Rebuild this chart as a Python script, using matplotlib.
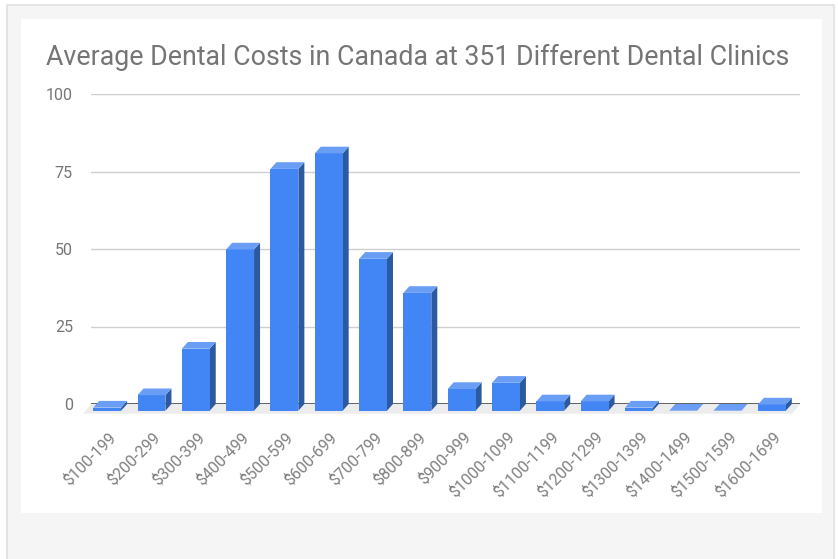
import matplotlib
matplotlib.use('Agg')
import matplotlib.pyplot as plt
import matplotlib.transforms as mtransforms
from matplotlib.patches import Rectangle, Polygon

# data
categories = ['$100-199', '$200-299', '$300-399', '$400-499', '$500-599', '$600-699',
              '$700-799', '$800-899', '$900-999', '$1000-1099', '$1100-1199', '$1200-1299',
              '$1300-1399', '$1400-1499', '$1500-1599', '$1600-1699']
clinics = [1, 5, 20, 52, 78, 83, 49, 38, 7, 9, 3, 3, 1, 0, 0, 2]
y_ticks = [0, 25, 50, 75, 100]

TITLE = 'Average Dental Costs in Canada at 351 Different Dental Clinics'

# sizes in pixels
W, H = 838, 559
AX_L, AX_R, AX_T, AX_B = 91, 800, 94, 404
DEPTH_X, DEPTH_Y = 6, 6.7
BAR_W = 0.63

FRONT = '#4285f4'
TOP = '#6a9ef5'
SIDE = '#2c5aa0'
TEXT = '#757575'

plt.rcParams['font.family'] = ['Roboto', 'DejaVu Sans']

fig = plt.figure(figsize=(W / 100, H / 100), dpi=100)
fig.patch.set_facecolor('white')

def fig_rect(x0, y0, x1, y1, **kw):
    # rect given in image pixel coords (top-down)
    r = Rectangle((x0 / W, 1 - y1 / H), (x1 - x0) / W, (y1 - y0) / H,
                  transform=fig.transFigure, zorder=-5, **kw)
    fig.add_artist(r)

# outer frame + card
fig_rect(7, 5, 834, H + 2, facecolor='#f5f5f5', edgecolor='#e0e0e0', linewidth=1.2)
fig_rect(21, 19, 822, 513, facecolor='white', edgecolor='none')

ax = fig.add_axes([AX_L / W, 1 - AX_B / H, (AX_R - AX_L) / W, (AX_B - AX_T) / H])
ax.set_facecolor('none')
n = len(categories)
ax.set_xlim(-0.5, n - 0.5)
ax.set_ylim(0, 100)

# pixel -> data conversion for the 3d offset
dxd = DEPTH_X / ((AX_R - AX_L) / n)
dyd = DEPTH_Y / ((AX_B - AX_T) / 100)

# gridlines
for t in y_ticks[1:]:
    ax.axhline(t, color='#cfcfcf', linewidth=1, zorder=1)

# floor
floor = Polygon([[-0.5, 0], [n - 0.5, 0], [n - 0.5 - dxd * 1.3, -dyd * 1.45],
                 [-0.5 - dxd * 1.3, -dyd * 1.45]], closed=True,
                facecolor='#ececec', edgecolor='none', clip_on=False, zorder=1)
ax.add_patch(floor)
ax.axhline(0, color='#555555', linewidth=1.3, zorder=2)

# bars (front, side, top faces)
for i, v in enumerate(clinics):
    xl = i - BAR_W / 2
    xr = i + BAR_W / 2
    front = Rectangle((xl - dxd, -dyd), BAR_W, v, facecolor=FRONT,
                      edgecolor='none', clip_on=False, zorder=4)
    side = Polygon([[xr - dxd, v - dyd], [xr, v], [xr, 0], [xr - dxd, -dyd]], closed=True,
                   facecolor=SIDE, edgecolor='none', clip_on=False, zorder=3)
    top = Polygon([[xl - dxd, v - dyd], [xr - dxd, v - dyd], [xr, v], [xl, v]], closed=True,
                  facecolor=TOP, edgecolor='none', clip_on=False, zorder=4)
    ax.add_patch(side)
    ax.add_patch(front)
    ax.add_patch(top)

for s in ax.spines.values():
    s.set_visible(False)

ax.set_yticks(y_ticks)
ax.set_yticklabels([str(t) for t in y_ticks])
ax.tick_params(axis='y', length=0, pad=13, labelsize=11.5, labelcolor=TEXT)

ax.set_xticks(range(n))
ax.set_xticklabels(categories, rotation=45, ha='right', va='center', rotation_mode='anchor')
ax.tick_params(axis='x', length=0, pad=22, labelsize=11.5, labelcolor='#808080')
shift = mtransforms.ScaledTranslation(0, 0, fig.dpi_scale_trans)
for lab in ax.get_xticklabels():
    lab.set_transform(lab.get_transform() + shift)

fig.text(46 / W, 1 - 57 / H, TITLE, ha='left', va='center', fontsize=19.3, color=TEXT)

fig.savefig('out.png', dpi=100)
